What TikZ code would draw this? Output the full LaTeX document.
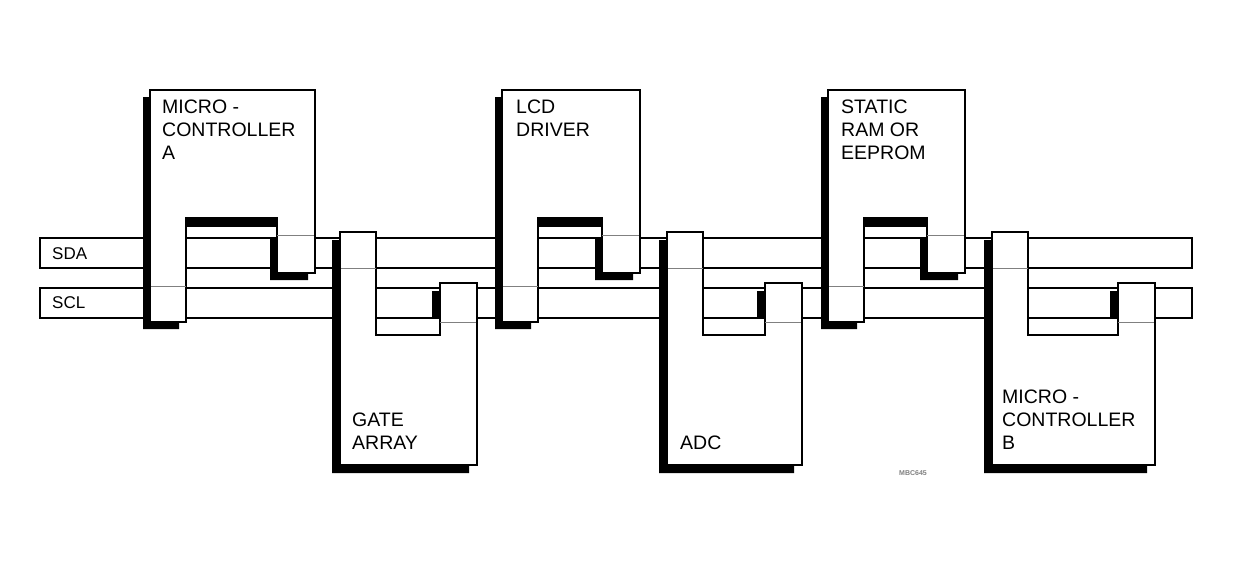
\documentclass[tikz,border=0pt]{standalone}
\usepackage{fontspec}
\setmainfont{Liberation Sans}
\usepackage{tikz}

\tikzset{
  bus/.style={draw=black, line width=1.2pt, fill=white},
  dev/.style={draw=black, line width=1.2pt, fill=white},
  shade/.style={fill=black},
  pinline/.style={draw=gray, line width=1pt},
  lbl/.style={anchor=north west, align=left, inner sep=0pt, font=\fontsize{19.5}{23}\selectfont}
}

% device hanging from above: x0, width
\newcommand{\updev}[2]{%
  \def\devpath{(#1,90) -- (#1+#2,90) -- (#1+#2,273) -- (#1+#2-38,273) -- (#1+#2-38,218)
    -- (#1+36,218) -- (#1+36,322) -- (#1,322) -- cycle}
  \fill[shade, xshift=-7, yshift=-7] \devpath;
  \path[dev] \devpath;
  \path[dev] (#1+36,226) rectangle (#1+#2-38,238);
  \draw[pinline] (#1+#2-38,235) -- (#1+#2-1,235);
  \draw[pinline] (#1+1,286) -- (#1+36,286);
}
% device standing below: x0, width
\newcommand{\lowdev}[2]{%
  \def\devpath{(#1,232) -- (#1+36,232) -- (#1+36,335) -- (#1+#2-37,335) -- (#1+#2-37,283)
    -- (#1+#2,283) -- (#1+#2,465) -- (#1,465) -- cycle}
  \fill[shade, xshift=-8, yshift=-8] \devpath;
  \path[dev] \devpath;
  \path[dev] (#1+36,318) rectangle (#1+#2-37,335);
  \draw[pinline] (#1+1,268) -- (#1+36,268);
  \draw[pinline] (#1+#2-37,322) -- (#1+#2-1,322);
}

\begin{document}
\begin{tikzpicture}[x=1pt, y=-1pt]
  \useasboundingbox (0,0) rectangle (1248,563);

  % the two bus lines
  \path[bus] (40,238) rectangle (1192,268);
  \path[bus] (40,288) rectangle (1192,318);
  \node[lbl, anchor=west, font=\fontsize{17}{18}\selectfont] (sda) at (52,254) {SDA};
  \node[lbl, anchor=west, font=\fontsize{17}{18}\selectfont] (scl) at (52,303) {SCL};

  \updev{150}{165}
  \updev{502}{138}
  \updev{828}{137}
  \lowdev{340}{137}
  \lowdev{667}{135}
  \lowdev{992}{163}

  \node[lbl] (mcua) at (162,100) {MICRO -\\CONTROLLER\\A};
  \node[lbl] (lcd) at (516,100) {LCD\\DRIVER};
  \node[lbl] (ram) at (841,100) {STATIC\\RAM OR\\EEPROM};
  \node[lbl] (gate) at (352,413) {GATE\\ARRAY};
  \node[lbl] (adc) at (680,436) {ADC};
  \node[lbl] (mcub) at (1002,390) {MICRO -\\CONTROLLER\\B};

  \node[inner sep=0pt, text=gray, font=\fontsize{7}{7}\selectfont\bfseries] (code) at (913,473) {MBC645};
\end{tikzpicture}
\end{document}
